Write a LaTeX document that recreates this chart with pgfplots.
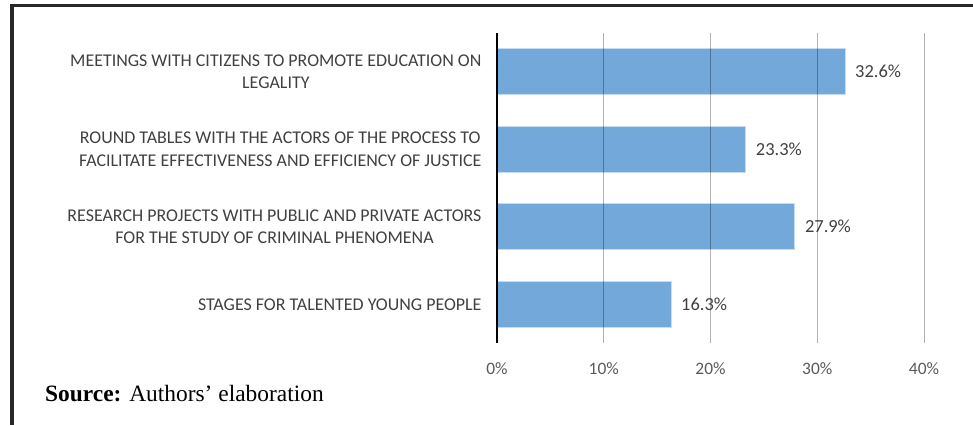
\documentclass[border=0pt]{standalone}
\usepackage{fontspec}
\setmainfont{Carlito}
\newfontfamily\timesfont{Liberation Serif}
\usepackage{pgfplots}
\pgfplotsset{compat=1.18}
\definecolor{barblue}{RGB}{114,168,218}
\definecolor{labgray}{RGB}{64,64,64}
\definecolor{tickgray}{RGB}{89,89,89}
\definecolor{framegray}{RGB}{40,40,40}
\begin{document}
\begin{tikzpicture}[x=1bp,y=1bp]
\path[use as bounding box] (0,0) rectangle (973,425);
% frame
\fill[framegray] (10,418) rectangle (973,421);
\fill[framegray] (10,0) rectangle (14,421);
\begin{axis}[
  at={(497bp,82bp)}, anchor=south west,
  width=427bp, height=310bp, scale only axis,
  xmin=0, xmax=40, ymin=-0.5, ymax=3.5,
  xbar, bar width=46bp,
  axis line style={draw=none},
  ytick={0,1,2,3},
  yticklabels={{STAGES FOR TALENTED YOUNG PEOPLE},
    {RESEARCH PROJECTS WITH PUBLIC AND PRIVATE ACTORS\\FOR THE STUDY OF CRIMINAL PHENOMENA},
    {ROUND TABLES WITH THE ACTORS OF THE PROCESS TO\\FACILITATE EFFECTIVENESS AND EFFICIENCY OF JUSTICE},
    {MEETINGS WITH CITIZENS TO PROMOTE EDUCATION ON\\LEGALITY}},
  yticklabel style={align=center, font=\fontsize{18}{23}\selectfont, text=labgray, xshift=-12bp},
  xtick={0,10,20,30,40},
  xticklabels={0\%,10\%,20\%,30\%,40\%},
  xticklabel style={font=\fontsize{17.5}{20}\selectfont, text=tickgray, yshift=-16bp},
  major tick length=0pt,
  xmajorgrids=true,
  grid style={black, opacity=0.3, line width=0.8bp},
  axis on top=true,
  /pgf/number format/assume math mode=true,
  nodes near coords={\pgfmathprintnumber[fixed,fixed zerofill,precision=1,assume math mode=true]{\pgfplotspointmeta}\%},
  nodes near coords style={font=\fontsize{18.5}{20}\selectfont, text=labgray, anchor=west, xshift=6.5bp},
  clip=false,
]
\addplot[fill=barblue, draw=white!60!barblue, line width=0.8bp] coordinates {
 (16.3,0) (27.9,1) (23.3,2) (32.6,3)};
\end{axis}
\draw[black, line width=2bp] (497,82) -- (497,392);
\node[anchor=base west, inner sep=0pt, font=\timesfont\fontsize{23.5}{26}\selectfont] at (45,24) {\textbf{Source:} Authors’ elaboration};
\end{tikzpicture}
\end{document}
